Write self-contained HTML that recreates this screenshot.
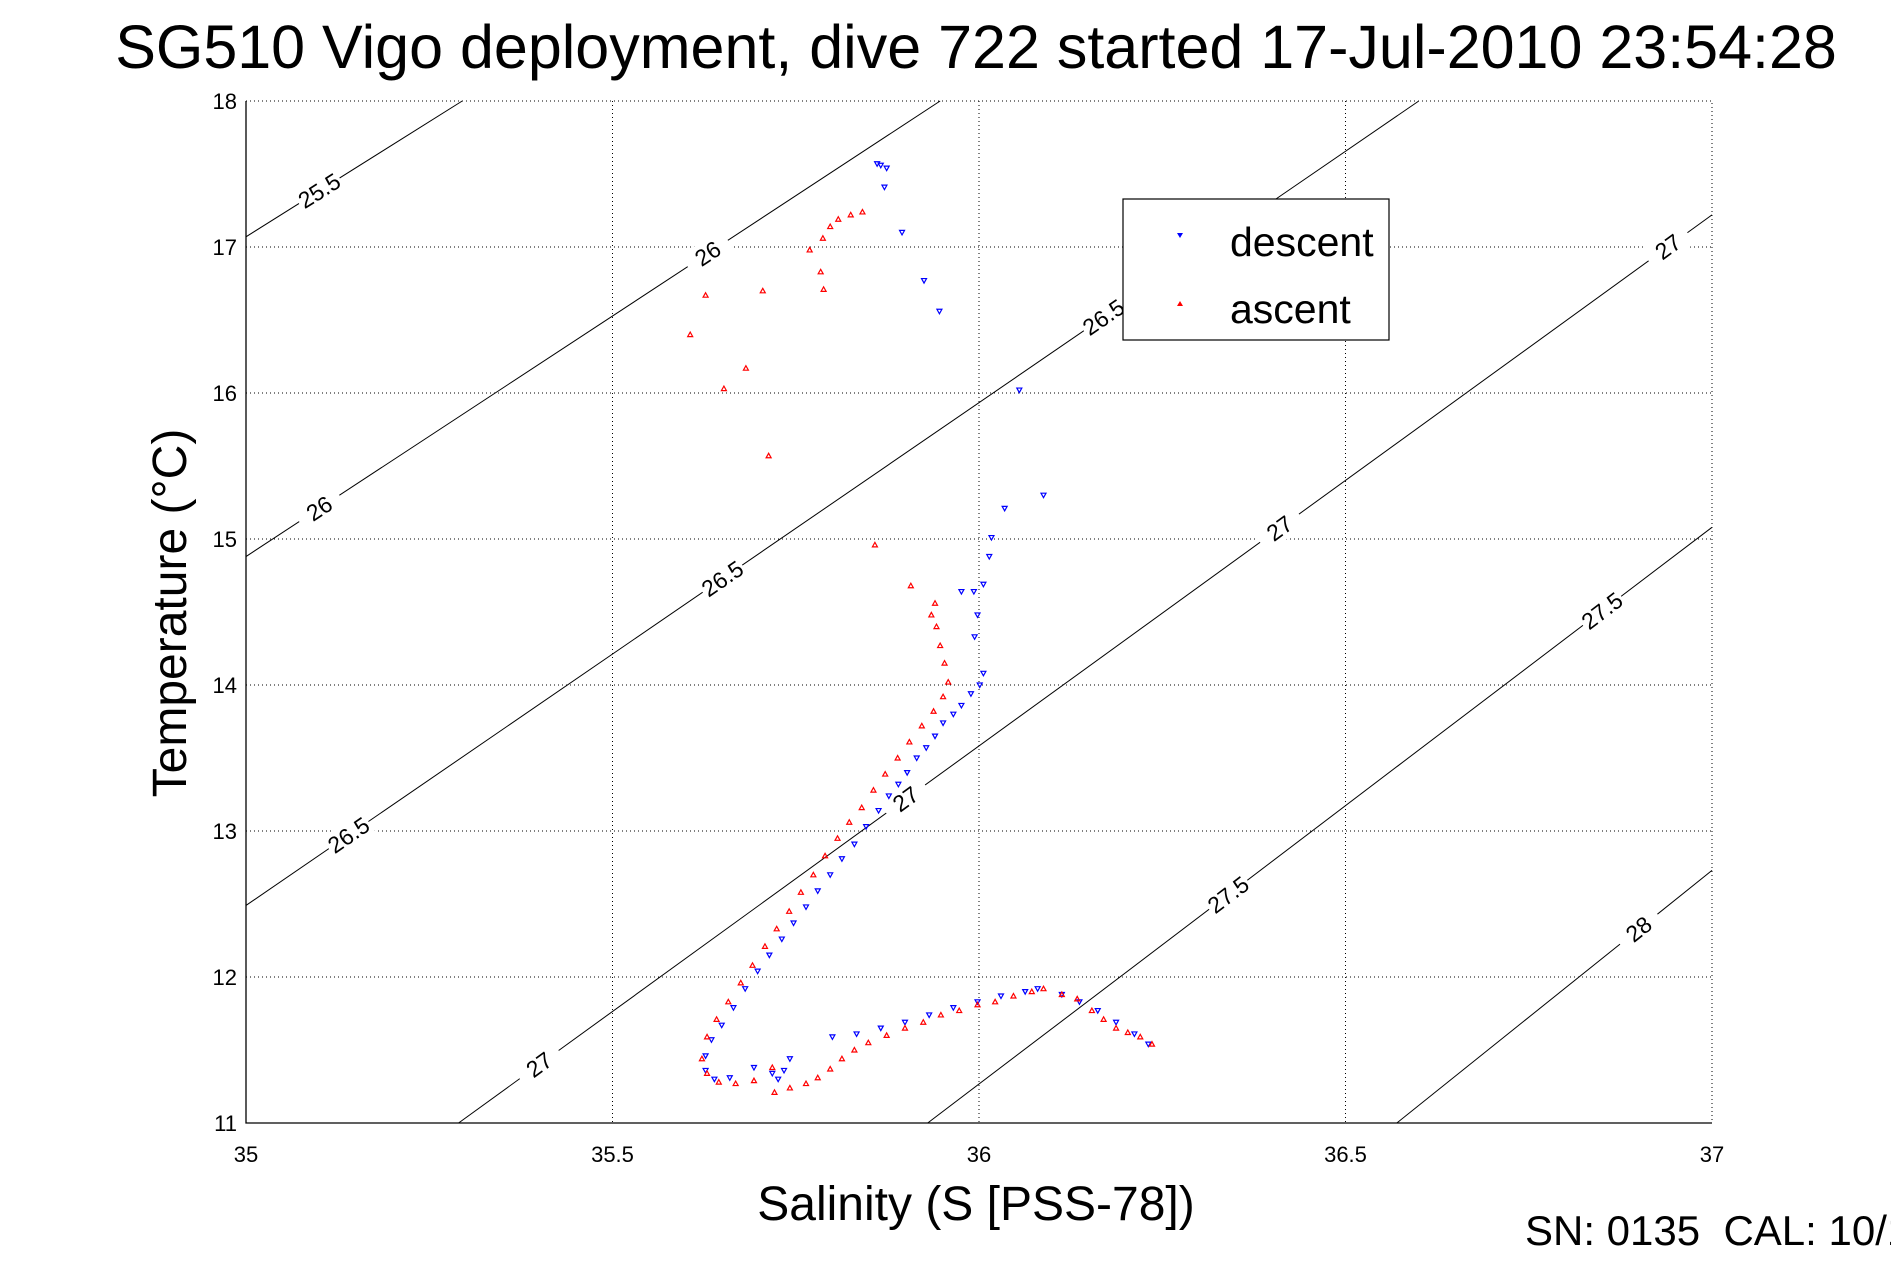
<!DOCTYPE html>
<html><head><meta charset="utf-8"><style>
body{margin:0;background:#fff;}
svg{display:block;font-family:"Liberation Sans",sans-serif;}
</style></head><body>
<svg id="chart" width="1891" height="1262" viewBox="0 0 1891 1262">
<rect width="1891" height="1262" fill="#fff"/>
<text x="976" y="68" font-size="61" text-anchor="middle">SG510 Vigo deployment, dive 722 started 17-Jul-2010 23:54:28</text>
<g id="grid"></g><g id="iso"></g><g id="pts"></g><g id="axes"></g>
<text x="976" y="1220" font-size="48" text-anchor="middle">Salinity (S [PSS-78])</text>
<text transform="translate(186,613) rotate(-90)" font-size="48" text-anchor="middle">Temperature (°C)</text>
<text x="1525" y="1245" font-size="42" style="white-space:pre">SN: 0135  CAL: 10/1</text>
<g>
<rect x="1123" y="199" width="266" height="141" fill="#fff" stroke="#000" stroke-width="1.2"/>
<path d="M1177,233 L1183,233 L1180,238 Z" fill="#00f"/>
<text x="1230" y="256" font-size="41">descent</text>
<path d="M1177,306 L1183,306 L1180,301 Z" fill="#f00"/>
<text x="1230" y="323" font-size="41">ascent</text>
</g>
</svg>
<script>
const xTicks=[35,35.5,36,36.5,37];
const yTicks=[11,12,13,14,15,16,17,18];
const isoLevels=["25.5","26","26.5","27","27.5","28"];
const isoStart=[[35,17.07],[35,14.88],[35,12.49],[35.29,11],[35.93,11],[36.57,11]];
const isoEnd=[[35.295,18],[35.947,18],[36.6,18],[37,17.22],[37,15.08],[37,12.73]];
const isoLabelS=[[35.1],[35.63,35.1],[36.17,35.65,35.14],[36.94,36.41,35.9,35.4],[36.85,36.34],[36.9]];
const descS=[35.866,35.874,35.861,35.871,35.895,35.925,35.946,36.055,36.088,36.035,36.017,36.014,36.006,35.976,35.993,35.998,35.994,36.006,36.001,35.989,35.976,35.965,35.951,35.940,35.928,35.915,35.902,35.890,35.877,35.863,35.846,35.830,35.813,35.797,35.780,35.764,35.747,35.731,35.714,35.698,35.681,35.665,35.649,35.635,35.627,35.627,35.639,35.660,35.693,35.718,35.734,35.742,35.726,35.800,35.833,35.866,35.899,35.932,35.965,35.998,36.030,36.063,36.080,36.113,36.137,36.162,36.187,36.212,36.231];
const descT=[17.56,17.54,17.57,17.41,17.10,16.77,16.56,16.02,15.30,15.21,15.01,14.88,14.69,14.64,14.64,14.48,14.33,14.08,14.00,13.94,13.86,13.80,13.74,13.65,13.57,13.50,13.40,13.32,13.24,13.14,13.03,12.91,12.81,12.70,12.59,12.48,12.37,12.26,12.15,12.04,11.92,11.79,11.67,11.57,11.46,11.36,11.30,11.31,11.38,11.34,11.36,11.44,11.30,11.59,11.61,11.65,11.69,11.74,11.79,11.83,11.87,11.90,11.92,11.88,11.83,11.77,11.69,11.61,11.54];
const ascS=[36.236,36.220,36.203,36.187,36.170,36.154,36.134,36.113,36.088,36.072,36.047,36.022,35.998,35.973,35.948,35.924,35.899,35.874,35.849,35.830,35.813,35.797,35.780,35.764,35.742,35.721,35.718,35.693,35.668,35.645,35.629,35.622,35.629,35.642,35.658,35.675,35.691,35.708,35.724,35.741,35.757,35.774,35.790,35.807,35.823,35.840,35.856,35.872,35.889,35.905,35.922,35.938,35.951,35.958,35.953,35.947,35.942,35.940,35.935,35.907,35.858,35.713,35.652,35.682,35.606,35.627,35.705,35.788,35.784,35.769,35.787,35.797,35.808,35.825,35.841];
const ascT=[11.54,11.59,11.62,11.65,11.71,11.77,11.85,11.88,11.92,11.90,11.87,11.83,11.81,11.77,11.74,11.69,11.65,11.60,11.55,11.50,11.44,11.37,11.31,11.27,11.24,11.21,11.38,11.29,11.27,11.28,11.34,11.44,11.59,11.71,11.83,11.96,12.08,12.21,12.33,12.45,12.58,12.70,12.83,12.95,13.06,13.16,13.28,13.39,13.50,13.61,13.72,13.82,13.92,14.02,14.15,14.27,14.40,14.56,14.48,14.68,14.96,15.57,16.03,16.17,16.40,16.67,16.70,16.71,16.83,16.98,17.06,17.14,17.19,17.22,17.24];

const L=246,R=1712,T=101,B=1123;
const X=s=>L+(s-35)/2*(R-L);
const Y=t=>B-(t-11)/7*(B-T);
const NS="http://www.w3.org/2000/svg";
function mk(tag,attrs,parent){const e=document.createElementNS(NS,tag);for(const k in attrs)e.setAttribute(k,attrs[k]);parent.appendChild(e);return e;}
const grid=document.getElementById('grid'),iso=document.getElementById('iso'),pts=document.getElementById('pts'),axes=document.getElementById('axes');
xTicks.forEach(v=>{
 if(v>35&&v<37){const g=mk('line',{x1:X(v),x2:X(v),y1:T,y2:B,stroke:'#000','stroke-width':1,'stroke-dasharray':'1,3'},grid);
 
 }
 const t=mk('text',{x:X(v),y:1162,'font-size':22,'text-anchor':'middle'},axes);t.textContent=v;
 
 
});
yTicks.forEach(v=>{
 if(v>11&&v<18){const g=mk('line',{x1:L,x2:R,y1:Y(v),y2:Y(v),stroke:'#000','stroke-width':1,'stroke-dasharray':'1,3'},grid);
 
 }
 const t=mk('text',{x:237,y:Y(v)+8,'font-size':22,'text-anchor':'end'},axes);t.textContent=v;
 
 
});
const frameTop=mk('path',{d:`M${L},${T}H${R}V${B}`,fill:'none',stroke:'#000','stroke-width':1,'stroke-dasharray':'1,3'},axes);


const ax=mk('path',{d:`M${L},${T}V${B}H${R}`,fill:'none',stroke:'#000','stroke-width':1.3},axes);


isoLevels.forEach((lv,i)=>{
 const [s0,t0]=isoStart[i],[s1,t1]=isoEnd[i];
 const ln=mk('line',{x1:X(s0),y1:Y(t0),x2:X(s1),y2:Y(t1),stroke:'#000','stroke-width':1},iso);
 
 
 const ang=Math.atan2(Y(t1)-Y(t0),X(s1)-X(s0))*180/Math.PI;
 isoLabelS[i].forEach(s=>{
  const t=t0+(s-s0)/(s1-s0)*(t1-t0);const px=X(s),py=Y(t);
  const g=mk('g',{transform:`translate(${px},${py}) rotate(${ang})`},iso);
  mk('rect',{x:-24,y:-13,width:48,height:26,fill:'#fff'},g);
  const tx=mk('text',{x:0,y:8,'font-size':23,'text-anchor':'middle'},g);tx.textContent=lv;
  
  
 });
});
descS.forEach((s,i)=>{const x=X(s),y=Y(descT[i]);
 const p=mk('path',{d:`M${x-2.5},${y-2} L${x+2.5},${y-2} L${x},${y+2.5} Z`,fill:'none',stroke:'#00f','stroke-width':1.2},pts);
 
 });
ascS.forEach((s,i)=>{const x=X(s),y=Y(ascT[i]);
 const p=mk('path',{d:`M${x-2.5},${y+2} L${x+2.5},${y+2} L${x},${y-2.5} Z`,fill:'none',stroke:'#f00','stroke-width':1.2},pts);
 
 });
</script>
</body></html>
